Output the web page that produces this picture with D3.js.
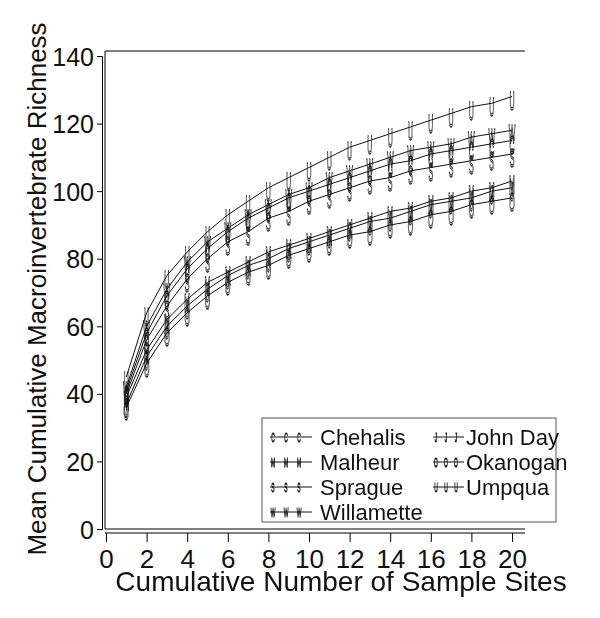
<!DOCTYPE html>
<html><head><meta charset="utf-8">
<script src="https://cdn.jsdelivr.net/npm/d3@7"></script>
<style>body{margin:0;background:#fff;} svg{display:block;}</style>
</head><body>
<svg id="c" width="600" height="618"></svg>
<script>
const sites = d3.range(1, 21);
const seriesNames = ["Chehalis","John Day","Malheur","Okanogan","Sprague","Umpqua","Willamette"];
const seriesMarks = ["C","J","M","O","S","U","W"];
const chehalis   = [41,58,69,77,83,88,92,95,98,100,102,104,106,108,109,111,112,113,114,115];
const johnDay    = [37,51,60,66,71,75,78,80,83,85,87,89,91,92,94,96,97,98,100,101];
const malheur    = [39,53,62,68,73,76,79,82,84,86,88,90,92,94,95,97,98,100,101,103];
const okanogan   = [36,49,58,64,69,73,76,78,81,83,85,87,88,90,91,93,94,96,97,98];
const sprague    = [40,56,66,74,80,85,88,92,94,97,99,101,103,104,106,107,108,109,110,111];
const umpqua     = [45,64,75,82,88,93,97,101,104,107,110,113,115,117,119,121,123,125,126,128];
const willamette = [42,60,71,79,85,89,93,96,99,101,104,106,108,110,112,113,114,116,117,118];
const seriesValues = [chehalis, johnDay, malheur, okanogan, sprague, umpqua, willamette];
const xTickValues = d3.range(0, 21, 2);
const yTickValues = d3.range(0, 141, 20);
const legendOrder = [0, 2, 4, 6, 1, 3, 5];

const svg = d3.select("#c");
svg.append("defs").append("filter").attr("id", "gray")
  .append("feColorMatrix").attr("type", "saturate").attr("values", 0);
const font = "'Liberation Sans', Arial, Helvetica, sans-serif";
const x = d3.scaleLinear().domain([0, 20]).range([106, 512]);
const y = d3.scaleLinear().domain([0, 140]).range([529, 56]);

// frame
const g = svg.append("g").attr("stroke", "#000").attr("fill", "none");
g.append("line").attr("x1", 105).attr("x2", 525).attr("y1", 51).attr("y2", 51).attr("stroke-width", 1.2);
g.append("line").attr("x1", 105).attr("x2", 105).attr("y1", 51).attr("y2", 529).attr("stroke-width", 1);
g.append("line").attr("x1", 105).attr("x2", 525).attr("y1", 529).attr("y2", 529).attr("stroke-width", 1);

// x axis
const xAxisG = svg.append("g").attr("transform", "translate(0,533)");
xAxisG.call(d3.axisBottom(x).tickValues(d3.range(0, 20.01, 0.4)).tickSize(4).tickFormat(""));
xAxisG.call(d3.axisBottom(x).tickValues(xTickValues).tickSize(9).tickPadding(8).tickFormat(d3.format("d")));
xAxisG.selectAll(".domain").attr("stroke", "#000").attr("d", "M105,0H525");
xAxisG.selectAll("text").attr("font-family", font).attr("font-size", 26).attr("fill", "#111");

// y axis
const yAxisG = svg.append("g").attr("transform", "translate(102,0)");
yAxisG.call(d3.axisLeft(y).tickValues(d3.range(0, 140.01, 2)).tickSize(3).tickFormat(""));
yAxisG.call(d3.axisLeft(y).tickValues(yTickValues).tickSize(5).tickPadding(3).tickFormat(d3.format("d")));
yAxisG.selectAll("text").attr("font-family", font).attr("font-size", 25).attr("fill", "#111").attr("dy", "0.36em");

// lines (straight joins)
const line = d3.line().x((d, i) => x(sites[i])).y(d => y(d));
const plot = svg.append("g");
seriesValues.forEach((vals) => {
  plot.append("path").attr("d", line(vals)).attr("fill", "none").attr("stroke", "#111").attr("stroke-width", 1);
});
const mk = plot.append("g").attr("filter", "url(#gray)");
function marker(sel, px, py, ch, size, sx, sy) {
  sel.append("text").text(ch)
    .attr("transform", `translate(${px},${py}) scale(${sx},${sy})`)
    .attr("text-anchor", "middle").attr("dy", "0.36em")
    .attr("font-family", font).attr("font-size", size)
    .attr("fill", "none").attr("stroke", "#111").attr("stroke-width", 0.7);
}
seriesValues.forEach((vals, k) => {
  vals.forEach((v, i) => marker(mk, x(sites[i]), y(v) + 4, seriesMarks[k], 14, 0.5, 1.8));
});

// legend
const lg = svg.append("g");
lg.append("rect").attr("x", 262).attr("y", 418).attr("width", 294).attr("height", 104)
  .attr("fill", "#fff").attr("stroke", "#555").attr("stroke-width", 1);
const lmk = lg.append("g").attr("filter", "url(#gray)");
legendOrder.forEach((k, j) => {
  const col = j < 4 ? 0 : 1, row = j < 4 ? j : j - 4;
  const sx = col === 0 ? 270 : 433, sy = 437 + row * 25;
  lg.append("line").attr("x1", sx).attr("x2", sx + (col === 0 ? 42 : 31)).attr("y1", sy).attr("y2", sy).attr("stroke", "#111").attr("stroke-width", 1);
  const step = col === 0 ? 13 : 10;
  [0, 1, 2].forEach(m => marker(lmk, sx + 3 + m * step, sy, seriesMarks[k], 9, 0.55, 1.5));
  lg.append("text").text(seriesNames[k]).attr("x", sx + (col === 0 ? 50 : 33)).attr("y", sy).attr("dy", "0.36em")
    .attr("font-family", font).attr("font-size", 22).attr("fill", "#111");
});

// axis titles
svg.append("text").text("Cumulative Number of Sample Sites")
  .attr("x", 341).attr("y", 591).attr("text-anchor", "middle")
  .attr("font-family", font).attr("font-size", 28).attr("fill", "#111");
svg.append("text").text("Mean Cumulative Macroinvertebrate Richness")
  .attr("transform", "translate(46,289) rotate(-90)").attr("text-anchor", "middle")
  .attr("font-family", font).attr("font-size", 26).attr("fill", "#111");
</script>
</body></html>
